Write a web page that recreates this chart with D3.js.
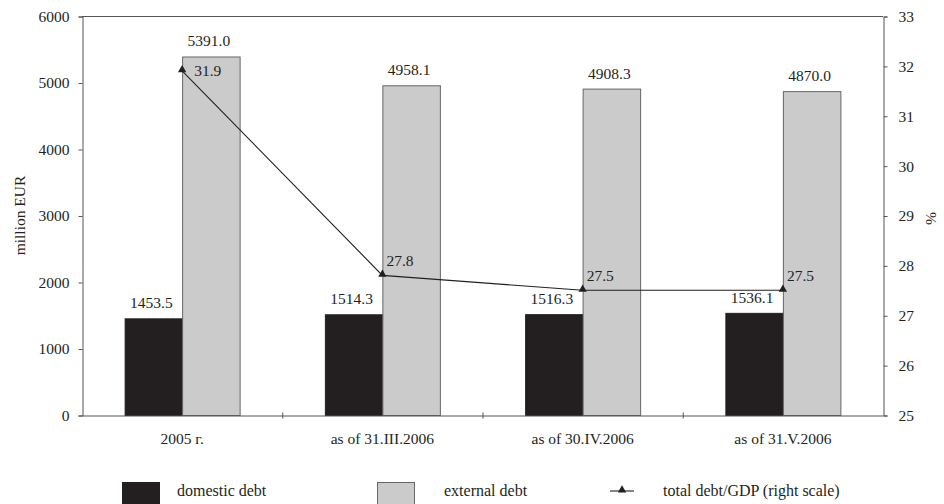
<!DOCTYPE html>
<html><head><meta charset="utf-8">
<script src="https://cdn.jsdelivr.net/npm/d3@7"></script>
<style>
html,body{margin:0;padding:0;background:#fff;}
svg text{font-family:"Liberation Serif","Times New Roman",Times,"DejaVu Serif",serif !important;fill:#231f20;}
</style></head>
<body>
<svg id="chart" width="944" height="504"></svg>
<script>
const categories = ["2005 г.", "as of 31.III.2006", "as of 30.IV.2006", "as of 31.V.2006"];
const domesticDebt = [1453.5, 1514.3, 1516.3, 1536.1];
const externalDebt = [5391.0, 4958.1, 4908.3, 4870.0];
const debtToGDP = [31.9, 27.8, 27.5, 27.5];
const leftTicks = [0, 1000, 2000, 3000, 4000, 5000, 6000];
const rightTicks = [25, 26, 27, 28, 29, 30, 31, 32, 33];
const seriesNames = ["domestic debt", "external debt"];

const svg = d3.select("#chart");
const L = 82, R = 883, T = 16, B = 415;
const axisColor = "#555";
const fs = 15.5;

const x = d3.scaleBand().domain(categories).range([L, R]).paddingInner(0).paddingOuter(0);
const x1 = d3.scaleBand().domain(seriesNames).range([x.bandwidth()/2 - 57.5, x.bandwidth()/2 + 57.5]).padding(0);
const y = d3.scaleLinear().domain([0, 6000]).range([B, T]);
const y2 = d3.scaleLinear().domain([25, 33]).range([B, T]);

const fills = {"domestic debt": "#231f20", "external debt": "#cbcbcb"};
const strokes = {"domestic debt": "#231f20", "external debt": "#666"};

svg.append("line").attr("x1", L).attr("x2", R).attr("y1", T + 0.5).attr("y2", T + 0.5)
  .attr("stroke", axisColor).attr("stroke-width", 1);

const data = categories.map((c, i) => ({cat: c, vals: [
  {s: "domestic debt", v: domesticDebt[i]},
  {s: "external debt", v: externalDebt[i]}]}));
const g = svg.selectAll(".grp").data(data).enter().append("g")
  .attr("transform", d => `translate(${x(d.cat)},0)`);
g.selectAll("rect").data(d => d.vals).enter().append("rect")
  .attr("x", d => x1(d.s) + 0.5).attr("width", x1.bandwidth())
  .attr("y", d => y(d.v) + 0.5).attr("height", d => B - y(d.v))
  .attr("fill", d => fills[d.s]).attr("stroke", d => strokes[d.s]).attr("stroke-width", 1);
g.selectAll("text.val").data(d => d.vals).enter().append("text")
  .attr("class", "val")
  .attr("x", d => x1(d.s) + x1.bandwidth()/2 - 2)
  .attr("y", d => y(d.v) - 10)
  .attr("text-anchor", "middle").attr("font-size", fs)
  .text(d => d.v.toFixed(1));

const yAxis = d3.axisLeft(y).tickValues(leftTicks).tickSize(4).tickPadding(9).tickFormat(d3.format("d"));
const ya = svg.append("g").attr("transform", `translate(${L + 0.5},0.5)`).call(yAxis);
ya.selectAll("path,line").attr("stroke", axisColor);
ya.selectAll("text").attr("font-size", fs).attr("fill", "#231f20");

const y2Axis = d3.axisRight(y2).tickValues(rightTicks).tickSize(4).tickPadding(11).tickFormat(d3.format("d"));
const yb = svg.append("g").attr("transform", `translate(${R + 0.5},0.5)`).call(y2Axis);
yb.selectAll("path,line").attr("stroke", axisColor);
yb.selectAll("text").attr("font-size", fs).attr("fill", "#231f20");

const xAxis = d3.axisBottom(x).tickSize(0).tickPadding(17);
const xa = svg.append("g").attr("transform", `translate(0,${B + 0.5})`).call(xAxis);
xa.select("path").attr("stroke", axisColor);
xa.selectAll("text").attr("font-size", fs).attr("fill", "#231f20");
xa.selectAll(".bnd").data(categories.slice(1)).enter().append("line")
  .attr("x1", d => x(d) + 0.5).attr("x2", d => x(d) + 0.5)
  .attr("y1", -3).attr("y2", 3).attr("stroke", axisColor);

const pts = categories.map((c, i) => ({cx: x(c) + x.bandwidth()/2, v: debtToGDP[i], top: y(externalDebt[i])}));
const line = d3.line().x(d => d.cx).y(d => y2(d.v));
svg.append("path").datum(pts).attr("d", line).attr("fill", "none").attr("stroke", "#231f20").attr("stroke-width", 1.1);
const tri = d3.symbol().type(d3.symbolTriangle).size(30);
svg.selectAll(".mk").data(pts).enter().append("path")
  .attr("d", tri).attr("transform", d => `translate(${d.cx},${y2(d.v) - 1})`).attr("fill", "#231f20");
svg.selectAll(".lbl").data(pts).enter().append("text")
  .attr("x", (d, i) => d.cx + (i === 0 ? 12 : 4))
  .attr("y", d => Math.max(y2(d.v) - 9, d.top + 20))
  .attr("font-size", fs).text(d => d.v.toFixed(1));

svg.append("text").attr("transform", `translate(25,${(T + B) / 2}) rotate(-90)`)
  .attr("text-anchor", "middle").attr("font-size", fs).text("million EUR");
svg.append("text").attr("transform", `translate(926,${(T + B) / 2 + 3}) rotate(90)`)
  .attr("text-anchor", "middle").attr("font-size", fs).text("%");

const lg = svg.append("g");
lg.append("rect").attr("x", 122).attr("y", 482).attr("width", 38).attr("height", 23).attr("fill", "#231f20");
lg.append("text").attr("x", 177).attr("y", 496).attr("font-size", fs + 0.5).text("domestic debt");
lg.append("rect").attr("x", 377.5).attr("y", 482.5).attr("width", 37).attr("height", 23).attr("fill", "#cbcbcb").attr("stroke", "#666");
lg.append("text").attr("x", 444).attr("y", 496).attr("font-size", fs + 0.5).text("external debt");
lg.append("line").attr("x1", 610).attr("x2", 634).attr("y1", 491).attr("y2", 491).attr("stroke", "#231f20").attr("stroke-width", 1.1);
lg.append("path").attr("d", tri).attr("transform", "translate(622,490)").attr("fill", "#231f20");
lg.append("text").attr("x", 663).attr("y", 496).attr("font-size", fs + 0.5).text("total debt/GDP (right scale)");
</script>
</body></html>
